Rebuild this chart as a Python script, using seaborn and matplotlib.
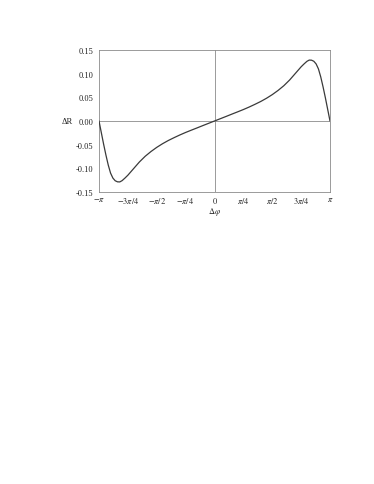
import numpy as np
import pandas as pd
import seaborn as sns
import matplotlib
matplotlib.use('Agg')
import matplotlib.pyplot as plt

# phase difference in units of pi, and the read-off Delta R
phi_over_pi = [-1.00, -0.98, -0.96, -0.94, -0.92, -0.90, -0.88, -0.86, -0.84, -0.82,
               -0.80, -0.775, -0.75, -0.725, -0.70, -0.65, -0.60, -0.55, -0.50, -0.45,
               -0.40, -0.35, -0.30, -0.25, -0.20, -0.15, -0.10, -0.05,
               0.00,
               0.05, 0.10, 0.15, 0.20, 0.25, 0.30, 0.35, 0.40, 0.45, 0.50,
               0.55, 0.60, 0.65, 0.70, 0.725, 0.75, 0.775, 0.80, 0.82, 0.84,
               0.86, 0.88, 0.90, 0.92, 0.94, 0.96, 0.98, 1.00]
delta_r = [0.000, -0.0245, -0.0490, -0.0720, -0.0930, -0.1100, -0.1205, -0.1262, -0.1285, -0.1287,
           -0.1260, -0.1205, -0.1145, -0.1075, -0.1005, -0.0865, -0.0745, -0.0645, -0.0557, -0.0480,
           -0.0412, -0.0352, -0.0295, -0.0242, -0.0193, -0.0145, -0.0096, -0.0048,
           0.000,
           0.0048, 0.0096, 0.0145, 0.0193, 0.0242, 0.0295, 0.0352, 0.0412, 0.0480, 0.0557,
           0.0645, 0.0745, 0.0865, 0.1005, 0.1075, 0.1145, 0.1205, 0.1260, 0.1287, 0.1285,
           0.1262, 0.1205, 0.1100, 0.0930, 0.0720, 0.0490, 0.0245, 0.000]

xtick_pos = [-1, -0.75, -0.5, -0.25, 0, 0.25, 0.5, 0.75, 1]
xtick_labels = [r'$-\pi$', r'$-3\pi/4$', r'$-\pi/2$', r'$-\pi/4$', r'$0$',
                r'$\pi/4$', r'$\pi/2$', r'$3\pi/4$', r'$\pi$']
ytick_pos = [-0.15, -0.10, -0.05, 0.00, 0.05, 0.10, 0.15]

sns.set_style('white')
plt.rcParams['font.family'] = ['Liberation Serif', 'DejaVu Serif']
plt.rcParams['mathtext.fontset'] = 'stix'

df = pd.DataFrame({'phi': np.array(phi_over_pi) * np.pi, 'dR': delta_r})

fig = plt.figure(figsize=(3.74, 4.85), dpi=100)
ax = fig.add_axes([99 / 374, 1 - 193 / 485, 231 / 374, 142 / 485])

grey = '#8a8a8a'
ax.axhline(0, color=grey, lw=0.6, zorder=1)
ax.axvline(0, color=grey, lw=0.6, zorder=1)
sns.lineplot(data=df, x='phi', y='dR', ax=ax, color='#3a3a3a', lw=0.9,
             sort=False, zorder=3)

ax.set_xlim(-np.pi, np.pi)
ax.set_ylim(-0.15, 0.15)
ax.set_xticks(np.array(xtick_pos) * np.pi)
ax.set_xticklabels(xtick_labels)
ax.set_yticks(ytick_pos)
ax.set_yticklabels([f'{v:.2f}' for v in ytick_pos])
ax.tick_params(direction='in', length=2, width=0.5, color=grey,
               labelsize=6, labelcolor='#222222')
ax.tick_params(axis='x', pad=2.5)
ax.tick_params(axis='y', pad=4)
for s in ax.spines.values():
    s.set_color(grey)
    s.set_linewidth(0.6)

ax.set_xlabel(r'$\Delta\varphi$', fontsize=6, color='#222222')
ax.xaxis.set_label_coords(0.5, -0.135)
ax.xaxis.label.set_va('center')
ax.set_ylabel('ΔR', fontsize=6, rotation=0, color='#222222', ha='right', va='center')
ax.yaxis.set_label_coords(-0.113, 0.5)

fig.savefig('out.png', dpi=100, facecolor='white')
